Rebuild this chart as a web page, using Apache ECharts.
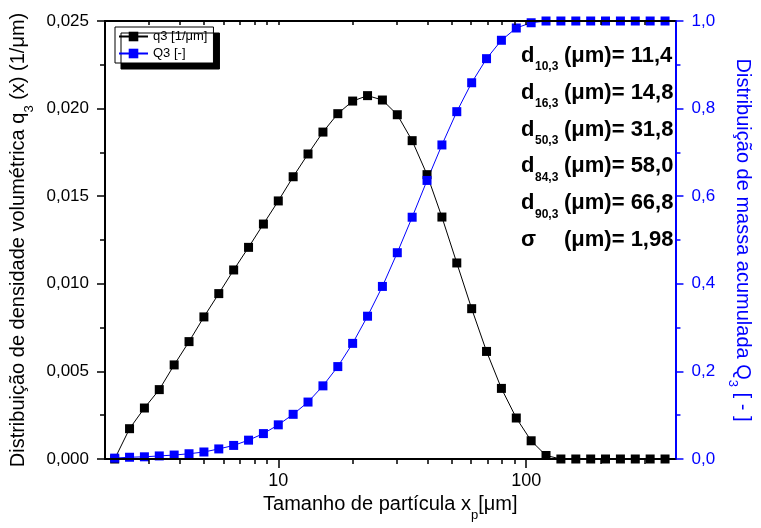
<!DOCTYPE html>
<html>
<head>
<meta charset="utf-8">
<title>Distribuição granulométrica</title>
<script src="https://cdn.jsdelivr.net/npm/echarts@6/dist/echarts.min.js"></script>
<style>
    html, body { margin: 0; padding: 0; }
    #main { width: 761px; height: 528px; }
</style>
</head>
<body>
<div id="main"></div>
<script>
// particle size classes (µm)
var sizes = [2.188, 2.512, 2.884, 3.311, 3.802, 4.365, 5.012, 5.754, 6.607, 7.586,
    8.710, 10.00, 11.48, 13.18, 15.14, 17.38, 19.95, 22.91, 26.30, 30.20,
    34.67, 39.81, 45.71, 52.48, 60.26, 69.18, 79.43, 91.20, 104.7, 120.2,
    138.0, 158.5, 182.0, 208.9, 239.9, 275.4, 316.2, 363.1];

// volume density q3 (1/µm)
var q3 = [0, 0.00173, 0.00291, 0.00396, 0.00537, 0.00670, 0.00811, 0.00944, 0.01079, 0.01208,
    0.01341, 0.01473, 0.01611, 0.01741, 0.01866, 0.01971, 0.02043, 0.02074, 0.02049, 0.01965,
    0.01817, 0.01623, 0.01381, 0.01119, 0.00858, 0.00614, 0.00403, 0.00234, 0.00104, 0.0002,
    0, 0, 0, 0, 0, 0, 0, 0];

// cumulative Q3 (-)
var Q3 = [0.002, 0.004, 0.005, 0.007, 0.009, 0.012, 0.016, 0.023, 0.031, 0.043,
    0.058, 0.078, 0.102, 0.130, 0.167, 0.211, 0.264, 0.326, 0.394, 0.471,
    0.552, 0.636, 0.717, 0.793, 0.859, 0.914, 0.956, 0.984, 0.996, 1,
    1, 1, 1, 1, 1, 1, 1, 1];

var xMajor = [10, 100];
var xMinor = [3, 4, 5, 6, 7, 8, 9, 20, 30, 40, 50, 60, 70, 80, 90, 200, 300];

var statNames = ['10,3', '16,3', '50,3', '84,3', '90,3'];
var statValues = ['11,4', '14,8', '31,8', '58,0', '66,8'];
var sigmaValue = '1,98';

var chart = echarts.init(document.getElementById('main'));

var font = 'Arial, "Liberation Sans", sans-serif';
var blue = '#0000ff';

function pairs(ys) {
    return sizes.map(function (x, i) { return [x, ys[i]]; });
}

function comma(digits) {
    return function (v) { return v.toFixed(digits).replace('.', ','); };
}

// only label the decades
function decadeLabel(v) {
    var r = Math.round(v);
    return xMajor.indexOf(r) >= 0 && Math.abs(v - r) < 1e-6 ? String(r) : '';
}

var nameRich = {
    a: { fontSize: 20, fontFamily: font, lineHeight: 22, verticalAlign: 'top' },
    s: { fontSize: 13, fontFamily: font, lineHeight: 12, padding: [14, 0, 0, 0], verticalAlign: 'top' }
};

// annotation block
var statRich = {
    d: { fontSize: 22, fontWeight: 'bold', fontFamily: font, lineHeight: 26, verticalAlign: 'top', width: 13 },
    s: { fontSize: 12, fontWeight: 'bold', fontFamily: font, lineHeight: 14, padding: [16, 0, 0, 1], verticalAlign: 'top', width: 29 },
    g: { fontSize: 22, fontWeight: 'bold', fontFamily: font, lineHeight: 26, verticalAlign: 'top', width: 43 },
    v: { fontSize: 22, fontWeight: 'bold', fontFamily: font, lineHeight: 26, verticalAlign: 'top' }
};
var graphics = statNames.map(function (n, k) {
    return {
        type: 'text', left: 521, top: 45 + 36.8 * k,
        style: { text: '{d|d}{s|' + n + '}{v|(μm)= ' + statValues[k] + '}', rich: statRich, fill: '#000' }
    };
});
graphics.push({
    type: 'text', left: 521, top: 45 + 36.8 * 5,
    style: { text: '{g|σ}{v|(μm)= ' + sigmaValue + '}', rich: statRich, fill: '#000' }
});

function logAxis(extra) {
    var axis = {
        type: 'log', logBase: 10, min: 2, max: 400, z: 10,
        splitLine: { show: false }
    };
    for (var k in extra) axis[k] = extra[k];
    return axis;
}

chart.setOption({
    animation: false,
    textStyle: { fontFamily: font },
    grid: { left: 105, right: 74, top: 21, bottom: 69 },
    legend: {
        orient: 'vertical', left: 115, top: 27,
        padding: [3, 6, 3, 3], itemGap: 4, itemWidth: 29, itemHeight: 12,
        backgroundColor: '#fff', borderColor: '#000', borderWidth: 1,
        shadowColor: '#000', shadowBlur: 0, shadowOffsetX: 6, shadowOffsetY: 6,
        textStyle: { fontSize: 13, color: '#000', fontFamily: font },
        data: ['q3 [1/μm]', 'Q3 [-]']
    },
    xAxis: [
        logAxis({
            position: 'bottom',
            axisLine: { show: true, onZero: false, lineStyle: { color: '#000', width: 2 } },
            axisTick: { show: true, length: 5, customValues: xMinor, lineStyle: { color: '#000', width: 1.5 } },
            axisLabel: { show: false }
        }),
        logAxis({
            position: 'bottom',
            axisLine: { show: true, onZero: false, lineStyle: { color: '#000', width: 2 } },
            axisTick: { show: true, length: 9, customValues: xMajor, lineStyle: { color: '#000', width: 1.5 } },
            axisLabel: { formatter: decadeLabel, fontSize: 18, color: '#000', margin: 13 },
            name: '{a|Tamanho de partícula x}{s|p}{a|[μm]}',
            nameLocation: 'middle', nameGap: 35,
            nameTextStyle: { color: '#000', rich: nameRich }
        }),
        logAxis({
            position: 'top',
            axisLine: { show: true, onZero: false, lineStyle: { color: '#000', width: 2 } },
            axisTick: { show: true, inside: true, length: 4, customValues: xMinor.concat(xMajor), lineStyle: { color: '#000', width: 1.5 } },
            axisLabel: { show: false }
        })
    ],
    yAxis: [{
        type: 'value', position: 'left', min: 0, max: 0.025, interval: 0.005, z: 10,
        splitLine: { show: false },
        axisLine: { show: true, onZero: false, lineStyle: { color: '#000', width: 2 } },
        axisTick: { show: true, length: 8, lineStyle: { color: '#000', width: 1.5 } },
        minorTick: { show: true, splitNumber: 2, length: 5, lineStyle: { color: '#000', width: 1.5 } },
        axisLabel: { formatter: comma(3), fontSize: 17, color: '#000', margin: 16 },
        name: '{a|Distribuição de densidade volumétrica q}{s|3}{a| (x) (1/μm)}',
        nameLocation: 'middle', nameGap: 71,
        nameTextStyle: { color: '#000', rich: nameRich }
    }, {
        type: 'value', position: 'right', min: 0, max: 1, interval: 0.2, z: 10,
        splitLine: { show: false },
        axisLine: { show: true, onZero: false, lineStyle: { color: blue, width: 2 } },
        axisTick: { show: true, length: 8, lineStyle: { color: blue, width: 1.5 } },
        minorTick: { show: true, splitNumber: 2, length: 5, lineStyle: { color: blue, width: 1.5 } },
        axisLabel: { formatter: comma(1), fontSize: 17, color: blue, margin: 16 },
        name: '{a|Distribuição de massa acumulada Q}{s|3}{a| [ - ]}',
        nameLocation: 'middle', nameGap: 52, nameRotate: -90,
        nameTextStyle: { color: blue, rich: nameRich }
    }],
    series: [{
        name: 'q3 [1/μm]', type: 'line', xAxisIndex: 0, yAxisIndex: 0,
        data: pairs(q3),
        symbol: 'rect', symbolSize: 9, clip: false,
        lineStyle: { color: '#000', width: 1 },
        itemStyle: { color: '#000' }
    }, {
        name: 'Q3 [-]', type: 'line', xAxisIndex: 0, yAxisIndex: 1,
        data: pairs(Q3),
        symbol: 'rect', symbolSize: 9, clip: false,
        lineStyle: { color: blue, width: 1 },
        itemStyle: { color: blue }
    }],
    graphic: graphics
});

window.addEventListener('resize', function () {
    chart.resize();
});
</script>
</body>
</html>
